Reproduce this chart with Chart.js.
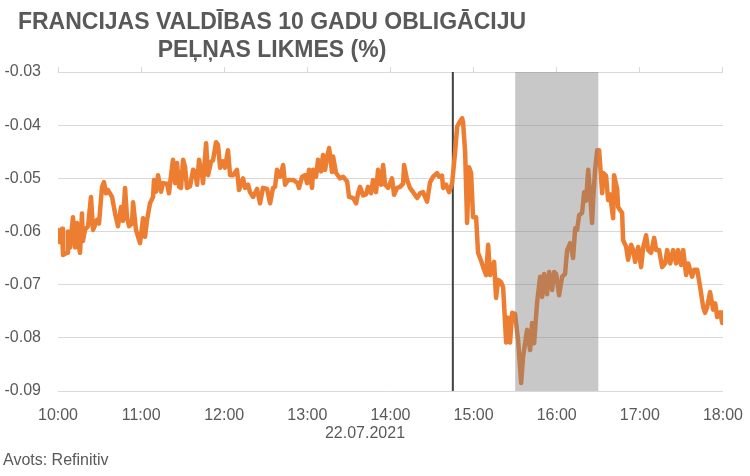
<!DOCTYPE html>
<html>
<head>
<meta charset="utf-8">
<script src="https://cdn.jsdelivr.net/npm/chart.js@4.4.1/dist/chart.umd.min.js"></script>
<style>
  html, body { margin: 0; padding: 0; background: #fff; }
  #wrap { width: 750px; height: 476px; }
</style>
</head>
<body>
<div id="wrap"><canvas id="yieldChart" width="750" height="476"></canvas></div>
<script>
// minutes after 10:00, 22.07.2021
const minutes = [
  0, 1.4, 2.9, 3.6, 6.5, 7.2, 8.7, 10.8, 12.3, 13.7,
  14.4, 15.9, 17.3, 18, 19.5, 21.7, 23.8, 25.3, 28.2, 29.6,
  31.8, 33.2, 34.7, 36.1, 39, 41.2, 43.3, 45.5, 46.9, 48.4,
  49.8, 51.3, 53.4, 54.2, 56.3, 59.2, 61.4, 62.8, 64.3, 66.4,
  68.6, 69.3, 70.8, 72.2, 74.4, 75.8, 78.7, 80.1, 81.6, 83,
  84.5, 85.9, 87.4, 88.8, 90.3, 91.7, 93.1, 95.3, 97.5, 98.9,
  100.4, 101.8, 104, 104.7, 106.9, 108.3, 110.5, 111.9, 114.1, 115.5,
  117, 119.1, 120.6, 122.7, 124.2, 126.4, 129.2, 130.7, 133.6, 135,
  137.2, 138.6, 140.8, 143.7, 145.8, 148, 150.9, 153.1, 155.2, 156.7,
  158.1, 160.3, 162.5, 163.9, 166.1, 169.7, 172.6, 174, 176.2, 178.3,
  179.8, 181.2, 183.4, 184.1, 186.3, 187.7, 189.9, 191.3, 192.8, 194.2,
  195.7, 197.8, 198.6, 200.7, 203.6, 205.8, 208.7, 210.1, 213, 215.2,
  216.6, 218, 220.2, 222.4, 223.8, 226, 227.4, 229.6, 231, 233.2,
  234.7, 236.1, 238.3, 241.1, 242.6, 244.8, 246.9, 249.1, 249.8, 252,
  254.1, 256.3, 259.2, 261.4, 263.5, 266.4, 268.6, 270.8, 273.6, 275.1,
  277.2, 278, 280.1, 282.3, 284.5, 286.6, 288.1, 289.5, 291.7, 292.4,
  293.9, 295.3, 296.7, 298.2, 299.6, 301.8, 303.2, 305.4, 306.9, 309,
  310.5, 311.9, 314.8, 316.2, 317.7, 319.8, 321.3, 323.5, 324.9, 326.3,
  327.8, 329.9, 332.1, 334.3, 335.7, 338.6, 340.8, 342.2, 343.7, 345.8,
  348, 349.5, 350.9, 353, 354.5, 356.7, 358.1, 359.6, 361.7, 363.9,
  366, 367.5, 369.7, 371.8, 373.3, 374.7, 376.2, 378.3, 379.8, 381.2,
  382.7, 384.1, 385.5, 386.3, 387.7, 389.2, 390.6, 392.8, 393.5, 395.6,
  397.1, 398.5, 400.7, 401.4, 403.6, 404.3, 405.8, 407.2, 407.9, 410.1,
  411.5, 413.7, 415.2, 416.6, 418.8, 420.9, 422.4, 424.5, 426, 428.1,
  430.3, 431.8, 433.9, 436.1, 438.3, 439.7, 441.9, 444, 446.2, 447.6,
  449.8, 451.3, 453.4, 454.9, 457.7, 459.2, 461.4, 463.5, 465.7, 467.1,
  468.6, 470.7, 472.9, 474.4, 475.8, 478, 479.4, 480
];

const yields = [
  -0.0597, -0.0620, -0.0595, -0.0644, -0.0640, -0.0600, -0.0630, -0.0573, -0.0630, -0.0584,
  -0.0618, -0.0640, -0.0566, -0.0618, -0.0597, -0.0590, -0.0535, -0.0597, -0.0578, -0.0585,
  -0.0516, -0.0507, -0.0528, -0.0522, -0.0535, -0.0566, -0.0590, -0.0554, -0.0580, -0.0518,
  -0.0573, -0.0590, -0.0585, -0.0545, -0.0597, -0.0622, -0.0575, -0.0610, -0.0578, -0.0547,
  -0.0535, -0.0503, -0.0525, -0.0494, -0.0525, -0.0509, -0.0510, -0.0528, -0.0494, -0.0465,
  -0.0509, -0.0471, -0.0516, -0.0518, -0.0465, -0.0478, -0.0518, -0.0515, -0.0484, -0.0487,
  -0.0512, -0.0465, -0.0494, -0.0509, -0.0434, -0.0494, -0.0469, -0.0466, -0.0432, -0.0437,
  -0.0480, -0.0468, -0.0480, -0.0447, -0.0494, -0.0494, -0.0484, -0.0522, -0.0500, -0.0518,
  -0.0512, -0.0526, -0.0535, -0.0520, -0.0547, -0.0518, -0.0520, -0.0547, -0.0518, -0.0516,
  -0.0484, -0.0497, -0.0475, -0.0512, -0.0503, -0.0503, -0.0508, -0.0518, -0.0497, -0.0494,
  -0.0509, -0.0484, -0.0518, -0.0484, -0.0497, -0.0465, -0.0487, -0.0456, -0.0484, -0.0460,
  -0.0443, -0.0488, -0.0459, -0.0490, -0.0500, -0.0497, -0.0506, -0.0535, -0.0537, -0.0547,
  -0.0528, -0.0516, -0.0532, -0.0530, -0.0516, -0.0528, -0.0503, -0.0526, -0.0484, -0.0512,
  -0.0475, -0.0512, -0.0518, -0.0500, -0.0531, -0.0518, -0.0516, -0.0510, -0.0475, -0.0503,
  -0.0518, -0.0526, -0.0537, -0.0528, -0.0526, -0.0544, -0.0507, -0.0497, -0.0490, -0.0497,
  -0.0495, -0.0518, -0.0512, -0.0526, -0.0509, -0.0452, -0.0403, -0.0396, -0.0387, -0.0395,
  -0.0452, -0.0584, -0.0479, -0.0490, -0.0573, -0.0573, -0.0640, -0.0655, -0.0667, -0.0682,
  -0.0625, -0.0682, -0.0657, -0.0725, -0.0691, -0.0695, -0.0705, -0.0809, -0.0762, -0.0809,
  -0.0753, -0.0755, -0.0804, -0.0885, -0.0836, -0.0785, -0.0823, -0.0772, -0.0810, -0.0734,
  -0.0685, -0.0723, -0.0680, -0.0718, -0.0676, -0.0710, -0.0676, -0.0680, -0.0720, -0.0685,
  -0.0680, -0.0635, -0.0622, -0.0650, -0.0594, -0.0597, -0.0569, -0.0565, -0.0526, -0.0542,
  -0.0484, -0.0530, -0.0584, -0.0540, -0.0484, -0.0447, -0.0447, -0.0528, -0.0490, -0.0495,
  -0.0541, -0.0530, -0.0575, -0.0494, -0.0520, -0.0554, -0.0560, -0.0565, -0.0616, -0.0629,
  -0.0653, -0.0625, -0.0635, -0.0657, -0.0629, -0.0667, -0.0630, -0.0607, -0.0635, -0.0640,
  -0.0612, -0.0635, -0.0635, -0.0667, -0.0660, -0.0635, -0.0660, -0.0635, -0.0660, -0.0635,
  -0.0663, -0.0635, -0.0682, -0.0660, -0.0685, -0.0672, -0.0672, -0.0704, -0.0742, -0.0753,
  -0.0742, -0.0714, -0.0747, -0.0735, -0.0761, -0.0752, -0.0772, -0.0752
];

const hourLabels = ["10:00", "11:00", "12:00", "13:00", "14:00", "15:00", "16:00", "17:00", "18:00"];
const yTicks = [-0.03, -0.04, -0.05, -0.06, -0.07, -0.08, -0.09];
const markerMinute = 285;          // 14:45
const bandMinutes = [330, 390];    // 15:30 - 16:30
const titleLines = ["FRANCIJAS VALDĪBAS 10 GADU OBLIGĀCIJU", "PEĻŅAS LIKMES (%)"];
const dateLabel = "22.07.2021";
const sourceLabel = "Avots: Refinitiv";

if (minutes.length !== yields.length) console.error("length mismatch", minutes.length, yields.length);

const grey = "#595959";
const tickFont = { family: "'Liberation Sans', Arial, sans-serif", size: 16 };

// vertical marker line + shaded band + texts
const extras = {
    id: "extras",
    beforeDatasetsDraw(chart) {
        const { ctx, chartArea, scales } = chart;
        const x = scales.x.getPixelForValue(markerMinute);
        ctx.save();
        ctx.strokeStyle = "#404040";
        ctx.lineWidth = 2;
        ctx.beginPath();
        ctx.moveTo(x, chartArea.top);
        ctx.lineTo(x, chartArea.bottom);
        ctx.stroke();
        ctx.restore();
    },
    afterDatasetsDraw(chart) {
        const { ctx, chartArea, scales } = chart;
        const x0 = scales.x.getPixelForValue(bandMinutes[0]);
        const x1 = scales.x.getPixelForValue(bandMinutes[1]);
        ctx.save();
        ctx.fillStyle = "rgba(127,127,127,0.43)";
        ctx.fillRect(x0, chartArea.top, x1 - x0, chartArea.bottom - chartArea.top);
        ctx.restore();
    },
    afterDraw(chart) {
        const { ctx } = chart;
        ctx.save();
        ctx.fillStyle = grey;
        ctx.textAlign = "center";
        ctx.textBaseline = "alphabetic";
        ctx.font = "bold 23px 'Liberation Sans', Arial, sans-serif";
        ctx.fillText(titleLines[0], 272, 29);
        ctx.fillText(titleLines[1], 272, 57);

        ctx.font = "16px 'Liberation Sans', Arial, sans-serif";
        ctx.textBaseline = "middle";
        ctx.fillText(dateLabel, 365, 434);
        ctx.textAlign = "left";
        ctx.fillText(sourceLabel, 3, 461);
        ctx.restore();
    }
};

new Chart("yieldChart", {
    type: "line",
    data: {
        datasets: [{
            data: minutes.map((m, i) => ({ x: m, y: yields[i] })),
            borderColor: "#ED7D31",
            borderWidth: 4.5,
            borderJoinStyle: "round",
            borderCapStyle: "round",
            pointRadius: 0,
            tension: 0,
            fill: false
        }]
    },
    options: {
        responsive: false,
        animation: false,
        layout: { padding: { top: 67, right: 22, bottom: 0, left: 4 } },
        plugins: {
            legend: { display: false },
            title: { display: false },
            tooltip: { enabled: false }
        },
        scales: {
            x: {
                type: "linear",
                position: "bottom",
                min: 0,
                max: 480,
                afterBuildTicks(scale) {
                    scale.ticks = hourLabels.map((_, i) => ({ value: i * 60 }));
                },
                afterFit(scale) { scale.height = 85; },
                ticks: {
                    color: grey,
                    font: tickFont,
                    padding: 7,
                    maxRotation: 0,
                    autoSkip: false,
                    callback: (v, i) => hourLabels[i]
                },
                grid: { display: false },
                border: { display: false }
            },
            xTop: {
                type: "linear",
                position: "top",
                min: 0,
                max: 480,
                afterBuildTicks(scale) {
                    scale.ticks = hourLabels.map((_, i) => ({ value: i * 60 }));
                },
                ticks: { display: false },
                grid: { drawOnChartArea: false, tickLength: 5, color: "#d9d9d9" },
                border: { display: false }
            },
            y: {
                min: -0.09,
                max: -0.03,
                afterBuildTicks(scale) {
                    scale.ticks = yTicks.map(v => ({ value: v }));
                },
                afterFit(scale) { scale.width = 54; },
                ticks: {
                    color: grey,
                    font: tickFont,
                    padding: 17,
                    callback: v => v.toFixed(2)
                },
                grid: { color: "#d9d9d9", lineWidth: 1, drawTicks: false },
                border: { display: false }
            }
        }
    },
    plugins: [extras]
});
</script>
</body>
</html>
